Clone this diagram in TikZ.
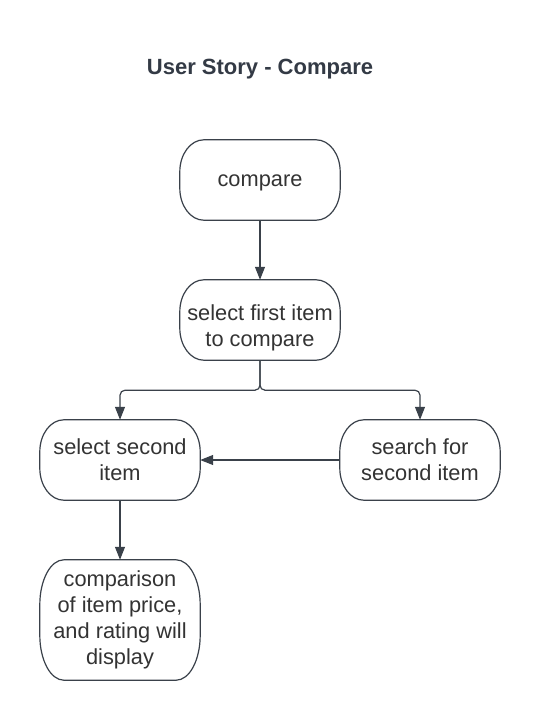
\documentclass[tikz,border=0pt]{standalone}
\usepackage{fontspec}
\setmainfont{Liberation Sans}
\usetikzlibrary{arrows.meta}
\definecolor{lineC}{HTML}{3A414A}
\definecolor{textC}{HTML}{333333}
\definecolor{titleC}{HTML}{333A45}
\tikzset{
  box/.style={draw=none, minimum width=160pt, minimum height=80pt, inner sep=0pt,
    align=center, text=textC, font=\fontsize{21.8}{26}\selectfont},
  boxline/.style={draw=lineC, line width=1.2pt},
  arr/.style={draw=lineC, line width=1.2pt, -{Triangle[length=13pt,width=10pt]}},
  ttl/.style={text=titleC, font=\fontsize{22}{26}\selectfont\bfseries}
}
\newcommand\ebox[3]{%
  \draw[boxline] ([xshift=#2]#1.north west) -- ([xshift=-#2]#1.north east)
    arc[start angle=90,end angle=0,x radius=#2,y radius=#3]
    -- ([yshift=#3]#1.south east)
    arc[start angle=0,end angle=-90,x radius=#2,y radius=#3]
    -- ([xshift=#2]#1.south west)
    arc[start angle=270,end angle=180,x radius=#2,y radius=#3]
    -- ([yshift=-#3]#1.north west)
    arc[start angle=180,end angle=90,x radius=#2,y radius=#3] -- cycle;}
\begin{document}
\begin{tikzpicture}[x=1pt,y=-1pt]
\useasboundingbox[fill=white] (0,0) rectangle (540,718);
\node[ttl] (title) at (260,69) {User Story - Compare};
\node[box] (compare) at (260,180) {};
\node[box] (comparetext) at (260,183) {compare};
\node[box] (first) at (260,320) {};
\node[box] (firsttext) at (260,328) {select first item\\to compare};
\node[box] (second) at (120,460) {select second\\item};
\node[box] (search) at (420,460) {search for\\second item};
\node[box, minimum height=120pt] (result) at (120,620) {comparison\\of item price,\\and rating will\\display};
\ebox{compare}{24pt}{32pt}
\ebox{first}{24pt}{32pt}
\ebox{second}{24pt}{32pt}
\ebox{search}{24pt}{32pt}
\ebox{result}{24pt}{45pt}
\draw[arr] (compare.south) -- (first.north);
\draw[arr, rounded corners=5pt] (first.south) -- ++(0,30) -| (second.north);
\draw[arr, rounded corners=5pt] (first.south) -- ++(0,30) -| (search.north);
\draw[arr] (search.west) -- (second.east);
\draw[arr] (second.south) -- (result.north);
\end{tikzpicture}
\end{document}
